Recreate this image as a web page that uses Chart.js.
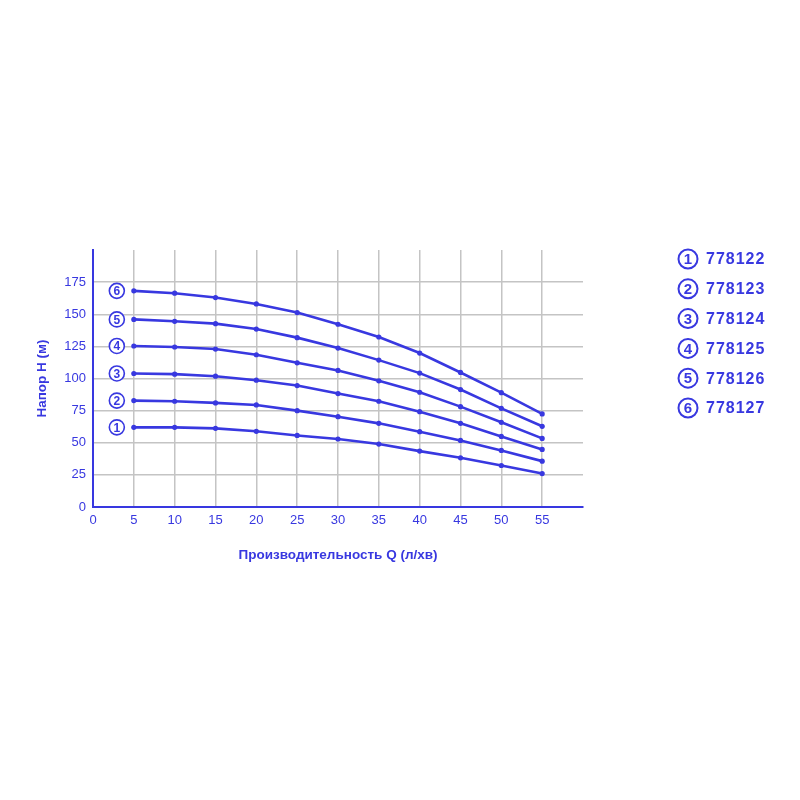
<!DOCTYPE html>
<html>
<head>
<meta charset="utf-8">
<script src="https://cdn.jsdelivr.net/npm/chart.js@4"></script>
<style>
  html, body { margin: 0; padding: 0; background: #fff; }
  #wrap { width: 800px; height: 800px; }
</style>
</head>
<body>
<div id="wrap"><canvas id="c" width="800" height="800"></canvas></div>
<script>
// ---------- data ----------
const flowQ = [5, 10, 15, 20, 25, 30, 35, 40, 45, 50, 55];
const models = ["778122", "778123", "778124", "778125", "778126", "778127"];
const head1 = [62, 62, 61.2, 58.9, 55.7, 52.9, 49, 43.5, 38.3, 32.3, 26];
const head2 = [82.8, 82.3, 81, 79.4, 75, 70.3, 65.1, 58.6, 51.8, 44, 35.7];
const head3 = [103.9, 103.4, 101.8, 98.7, 94.5, 88.3, 82.3, 74.2, 65.1, 54.9, 44.8];
const head4 = [125.3, 124.5, 122.9, 118.5, 112.2, 106.3, 98.2, 89.3, 78.1, 65.9, 53.4];
const head5 = [146, 144.5, 142.7, 138.5, 131.8, 123.7, 114.3, 104.2, 91.4, 76.8, 62.8];
const head6 = [168.2, 166.4, 163, 158, 151.3, 142.2, 132.3, 119.8, 104.7, 89, 72.4];
const heads = [head1, head2, head3, head4, head5, head6];

const BLUE = "#3838e0";
const FONT = "'Liberation Sans', Arial, sans-serif";

// circled number helper
function circled(ctx, x, y, r, n, fs, lw) {
  ctx.save();
  ctx.beginPath();
  ctx.arc(x, y, r, 0, Math.PI * 2);
  ctx.fillStyle = "#fff";
  ctx.fill();
  ctx.lineWidth = lw;
  ctx.strokeStyle = BLUE;
  ctx.stroke();
  ctx.fillStyle = BLUE;
  ctx.font = `bold ${fs}px ${FONT}`;
  ctx.textAlign = "center";
  ctx.textBaseline = "middle";
  ctx.fillText(String(n), x, y + 1);
  ctx.restore();
}

// labels at line starts + legend on the right
const markers = {
  id: "markers",
  afterDraw(chart) {
    const { ctx } = chart;
    const xs = chart.scales.x, ys = chart.scales.y;
    heads.forEach((h, i) => {
      circled(ctx, xs.getPixelForValue(flowQ[0]) - 17, ys.getPixelForValue(h[0]), 7.5, i + 1, 12, 1.6);
    });
    models.forEach((m, i) => {
      const y = 259 + i * 29.8;
      circled(ctx, 688, y, 9.5, i + 1, 15, 2);
      ctx.save();
      ctx.fillStyle = BLUE;
      ctx.font = `bold 16px ${FONT}`;
      ctx.letterSpacing = "1px";
      ctx.textBaseline = "middle";
      ctx.fillText(m, 706, y + 1);
      ctx.restore();
    });
  }
};

const datasets = heads.map((h, i) => ({
  label: models[i],
  data: flowQ.map((q, j) => ({ x: q, y: h[j] })),
  borderColor: BLUE,
  backgroundColor: BLUE,
  borderWidth: 2.6,
  pointRadius: 2.6,
  pointBorderWidth: 0,
  pointHoverRadius: 2.6,
  tension: 0
}));

new Chart(document.getElementById("c").getContext("2d"), {
  type: "line",
  data: { datasets },
  options: {
    responsive: false,
    animation: false,
    layout: { padding: { left: 30, right: 217, top: 250, bottom: 233 } },
    plugins: { legend: { display: false }, tooltip: { enabled: false } },
    scales: {
      x: {
        type: "linear",
        min: 0, max: 60,
        afterFit: (s) => { s.height = 60; },
        ticks: {
          stepSize: 5,
          color: BLUE,
          font: { family: FONT, size: 13 },
          padding: 6,
          maxRotation: 0,
          callback: (v) => (v === 60 ? "" : v)
        },
        grid: {
          drawTicks: false,
          color: (c) => (c.tick && c.tick.value === 60 ? "rgba(0,0,0,0)" : "#c4c4c4"),
          lineWidth: 1.5
        },
        border: { color: BLUE, width: 2 },
        title: {
          display: true,
          text: "Производительность Q (л/хв)",
          color: BLUE,
          font: { family: FONT, size: 13.5, weight: "bold" },
          padding: { top: 10 }
        }
      },
      y: {
        min: 0, max: 200,
        afterFit: (s) => { s.width = 63; },
        ticks: {
          stepSize: 25,
          color: BLUE,
          font: { family: FONT, size: 13 },
          padding: 7,
          callback: (v) => (v === 200 ? "" : v)
        },
        grid: {
          drawTicks: false,
          color: (c) => (c.tick && c.tick.value === 200 ? "rgba(0,0,0,0)" : "#c4c4c4"),
          lineWidth: 1.5
        },
        border: { color: BLUE, width: 2 },
        title: {
          display: true,
          text: "Напор Н (м)",
          color: BLUE,
          font: { family: FONT, size: 13.5, weight: "bold" },
          padding: { bottom: 2 }
        }
      }
    }
  },
  plugins: [markers]
});
</script>
</body>
</html>
